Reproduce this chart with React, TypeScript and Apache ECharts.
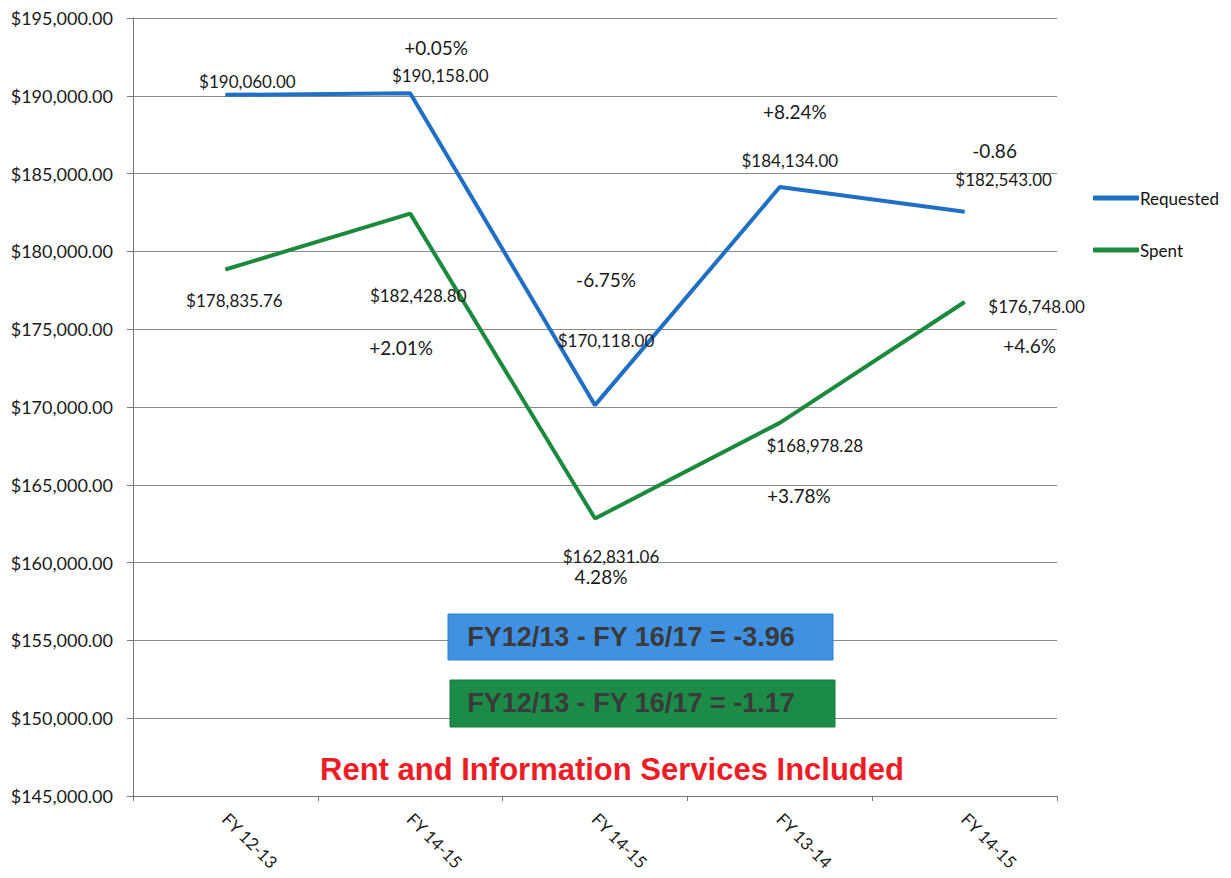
import React, { useEffect, useRef } from "react";
import * as echarts from "echarts";

const categories = ["FY 12-13", "FY 14-15", "FY 14-15", "FY 13-14", "FY 14-15"];
const requested = [190060.0, 190158.0, 170118.0, 184134.0, 182543.0];
const spent = [178835.76, 182428.8, 162831.06, 168978.28, 176748.0];
const requestedChange = ["", "+0.05%", "-6.75%", "+8.24%", "-0.86"];
const spentChange = ["", "+2.01%", "4.28%", "+3.78%", "+4.6%"];
const yMin = 145000;
const yMax = 195000;
const yStep = 5000;
const seriesNames = ["Requested", "Spent"];
const summaryRequested = "FY12/13 - FY 16/17 = -3.96";
const summarySpent = "FY12/13 - FY 16/17 = -1.17";
const footnote = "Rent and Information Services Included";

// label layout (offsets relative to the data point, in px)
const reqValueOffsets = [[22, -13], [30, -18], [11, -65], [10, -27], [39, -32]];
const reqPctOffsets = [[0, 0], [26, -46], [11, -126], [15, -76], [30, -61]];
const spentValueOffsets = [[9, 31], [8, 82], [16, 38], [35, 23], [72, 4]];
const spentPctOffsets = [[0, 0], [-9, 134], [6, 58], [19, 73], [65, 43]];

const FONT = "Lato";

function money(v: number): string {
  const s = v.toFixed(2);
  const [i, d] = s.split(".");
  return "$" + i.replace(/\B(?=(\d{3})+(?!\d))/g, ",") + "." + d;
}

function buildSeries(
  name: string,
  values: number[],
  changes: string[],
  color: string,
  valueOffsets: number[][],
  pctOffsets: number[][]
) {
  return {
    name,
    type: "line",
    data: values.map((v, i) => ({
      value: v,
      label: { offset: valueOffsets[i] },
    })),
    lineStyle: { color, width: 4 },
    itemStyle: { color },
    symbol: "circle",
    symbolSize: 1,
    showSymbol: true,
    label: {
      show: true,
      position: "inside",
      formatter: (p: any) => money(p.value),
      fontFamily: FONT,
      fontSize: 17,
      color: "#1a1a1a",
    },
    markPoint: {
      symbol: "circle",
      symbolSize: 0,
      itemStyle: { color: "transparent" },
      data: changes
        .map((c, i) => ({
          coord: [i, values[i]],
          value: c,
          label: {
            show: true,
            position: "inside",
            formatter: c,
            offset: pctOffsets[i],
            fontFamily: FONT,
            fontSize: 19,
            color: "#1a1a1a",
          },
        }))
        .filter((d) => d.value !== ""),
    },
    z: 3,
  };
}

export default function App() {
  const ref = useRef<HTMLDivElement>(null);
  useEffect(() => {
    if (!ref.current) return;
    const chart = echarts.init(ref.current, undefined, { renderer: "svg" });
    chart.setOption({
      animation: false,
      backgroundColor: "#ffffff",
      grid: { left: 133, right: 174, top: 18, bottom: 82, containLabel: false },
      legend: {
        orient: "vertical",
        left: 1088,
        top: 183,
        itemGap: 32,
        itemWidth: 46,
        itemHeight: 5,
        icon: "roundRect",
        textStyle: { fontFamily: FONT, fontSize: 17, color: "#111", lineHeight: 20, padding: [0, 0, 0, -4] },
        data: seriesNames,
      },
      xAxis: {
        type: "category",
        data: categories,
        boundaryGap: true,
        axisLine: { show: true, lineStyle: { color: "#777", width: 1 } },
        axisTick: { show: true, alignWithLabel: false, length: 5, lineStyle: { color: "#777" } },
        axisLabel: {
          rotate: -45,
          margin: 20,
          fontFamily: FONT,
          fontSize: 17,
          color: "#1a1a1a",
          interval: 0,
        },
        splitLine: { show: false },
      },
      yAxis: {
        type: "value",
        min: yMin,
        max: yMax,
        interval: yStep,
        axisLine: { show: true, lineStyle: { color: "#777", width: 1 } },
        axisTick: { show: true, length: 6, inside: false, lineStyle: { color: "#777" } },
        axisLabel: {
          formatter: (v: number) => money(v),
          fontFamily: FONT,
          fontSize: 18,
          color: "#1a1a1a",
          margin: 20,
        },
        splitLine: { show: true, lineStyle: { color: "#8a8a8a", width: 1 } },
      },
      series: [
        buildSeries(seriesNames[0], requested, requestedChange, "#1f6fc5", reqValueOffsets, reqPctOffsets),
        buildSeries(seriesNames[1], spent, spentChange, "#1a8a3c", spentValueOffsets, spentPctOffsets),
      ],
      graphic: [
        {
          type: "rect",
          shape: { x: 448, y: 614, width: 385, height: 46 },
          style: { fill: "#4191e3", stroke: "#2f7fd8", lineWidth: 1 },
          z: 10,
        },
        {
          type: "text",
          x: 631,
          y: 637,
          style: {
            text: summaryRequested,
            font: "bold 27px 'Liberation Sans', Arial, sans-serif",
            fill: "#3a3a3a",
            textAlign: "center",
            textVerticalAlign: "middle",
          },
          z: 11,
        },
        {
          type: "rect",
          shape: { x: 450, y: 680, width: 385, height: 47 },
          style: { fill: "#1d8b48", stroke: "#177a3d", lineWidth: 1 },
          z: 10,
        },
        {
          type: "text",
          x: 631,
          y: 703,
          style: {
            text: summarySpent,
            font: "bold 27px 'Liberation Sans', Arial, sans-serif",
            fill: "#3a3a3a",
            textAlign: "center",
            textVerticalAlign: "middle",
          },
          z: 11,
        },
        {
          type: "text",
          x: 612,
          y: 769,
          style: {
            text: footnote,
            font: "bold 31px 'Liberation Sans', Arial, sans-serif",
            fill: "#ee1c25",
            textAlign: "center",
            textVerticalAlign: "middle",
          },
          z: 11,
        },
      ],
    });
    return () => chart.dispose();
  }, []);
  return (
    <div
      ref={ref}
      style={{ position: "fixed", left: 0, top: 0, width: 1231, height: 878, background: "#fff" }}
    />
  );
}
